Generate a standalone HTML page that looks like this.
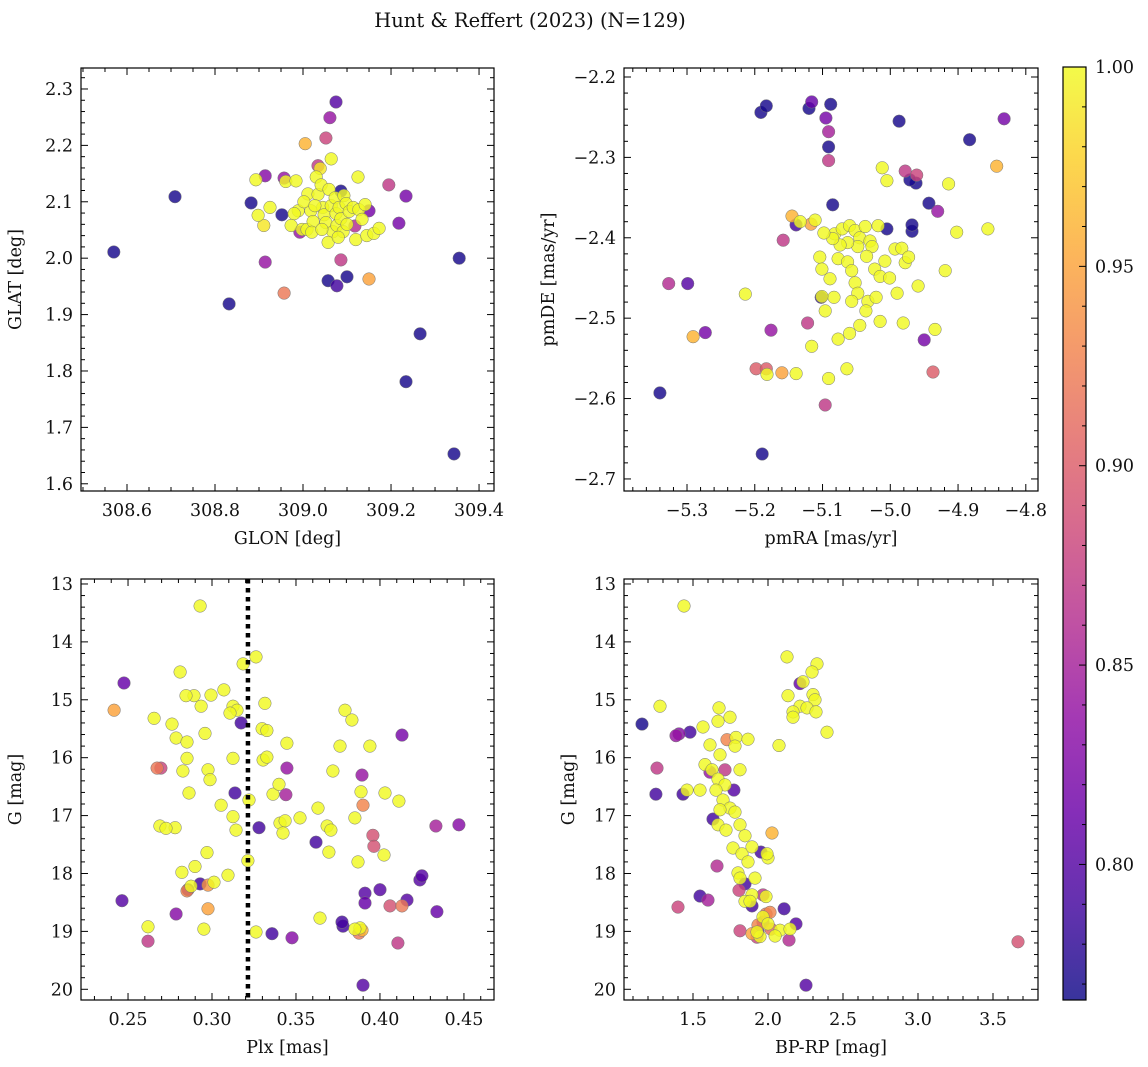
<!DOCTYPE html>
<html><head><meta charset="utf-8"><title>Hunt & Reffert (2023)</title>
<style>
html,body{margin:0;padding:0;background:#fff;}
svg{display:block;font-family:"DejaVu Serif","Liberation Serif",serif;}
</style></head>
<body>
<svg id="fig" width="1148" height="1067" viewBox="0 0 1148 1067" xmlns="http://www.w3.org/2000/svg">
<text x="530" y="27" font-size="19.5" text-anchor="middle" fill="#111">Hunt &amp; Reffert (2023) (N=129)</text>
</svg>
<script>
// ---- Panel 1 data: GLON / GLAT ----
const p1Glon = [308.570,308.709,308.832,308.882,308.952,309.057,309.077,309.100,309.355,309.266,309.234,309.343,309.086,309.075,309.061,309.052,308.914,308.957,309.034,309.195,309.234,309.218,308.914,308.957,309.086,309.150,309.005,309.150,309.118,308.993,
308.893,308.898,308.911,308.925,308.961,308.973,308.984,308.989,308.998,309.009,309.011,309.018,309.023,309.030,309.034,309.039,309.041,309.045,309.048,309.052,309.059,309.064,309.064,309.068,309.073,309.075,309.077,309.082,309.086,309.091,309.093,309.098,309.105,309.114,309.120,309.125,309.127,309.134,309.141,309.145,309.161,309.173,309.020,309.002,309.043,309.057,309.080,308.980,309.027,309.100];
const p1Glat = [2.011,2.109,1.919,2.098,2.077,1.960,1.951,1.967,2.000,1.866,1.781,1.653,2.119,2.277,2.249,2.213,2.146,2.142,2.164,2.130,2.110,2.062,1.993,1.938,1.997,1.963,2.203,2.084,2.057,2.046,
2.139,2.076,2.058,2.090,2.136,2.058,2.137,2.084,2.051,2.051,2.114,2.084,2.065,2.144,2.113,2.159,2.130,2.090,2.077,2.063,2.122,2.176,2.093,2.047,2.107,2.079,2.058,2.090,2.070,2.047,2.111,2.097,2.083,2.090,2.033,2.144,2.086,2.069,2.095,2.040,2.044,2.053,2.046,2.100,2.051,2.028,2.037,2.079,2.093,2.060];
const p1Prob = [.77,.77,.77,.77,.77,.77,.79,.77,.77,.77,.77,.77,.77,.80,.84,.88,.83,.84,.87,.87,.82,.82,.84,.92,.87,.95,.96,.82,.86,.84,
1,1,.99,1,1,1,1,1,1,1,1,1,1,1,1,.99,1,1,1,1,1,1,1,1,1,1,1,1,1,1,1,1,1,1,1,1,1,1,1,1,1,1,1,1,1,1,1,1,1,1];

// ---- Panel 2 data: pmRA / pmDE ----
const p2PmRA = [-5.191,-5.183,-5.120,-5.088,-5.091,-4.987,-4.883,-5.085,-5.005,-4.968,-4.962,-4.968,-4.943,-5.102,-5.340,-5.189,-5.139,-4.971,
-5.116,-5.095,-5.091,-5.091,-4.978,-4.961,-4.930,-5.327,-5.299,-5.273,-5.176,-5.158,-5.122,-5.096,-5.198,-5.183,-4.937,-4.832,-4.950,
-4.843,-5.291,-5.160,-5.145,-5.117,
-5.214,-5.182,-5.139,-5.012,-5.005,-4.914,-4.856,-5.082,-5.071,-5.060,-5.052,-5.045,-5.037,-5.030,-5.018,-5.027,-5.048,-5.063,-5.074,-5.085,-5.098,-5.111,-5.133,-5.104,-5.101,-5.089,-5.077,-5.063,-5.057,-5.052,-5.048,-5.035,-5.023,-5.015,-5.008,-5.001,-4.993,-4.983,-4.978,-4.973,-4.981,-4.990,-4.934,-4.959,-4.919,-4.902,-5.083,-5.060,-5.045,-5.033,-5.015,-5.077,-5.091,-5.064,-5.116,-5.101,-5.096,-5.057,-5.036,-5.021];
const p2PmDE = [-2.244,-2.236,-2.239,-2.234,-2.287,-2.255,-2.278,-2.359,-2.389,-2.392,-2.332,-2.384,-2.357,-2.474,-2.593,-2.669,-2.384,-2.328,
-2.231,-2.251,-2.268,-2.304,-2.317,-2.322,-2.367,-2.457,-2.457,-2.518,-2.515,-2.403,-2.506,-2.608,-2.563,-2.563,-2.567,-2.252,-2.527,
-2.311,-2.523,-2.568,-2.373,-2.383,
-2.470,-2.570,-2.569,-2.313,-2.329,-2.333,-2.389,-2.395,-2.389,-2.385,-2.391,-2.400,-2.386,-2.404,-2.385,-2.411,-2.411,-2.406,-2.409,-2.401,-2.394,-2.378,-2.380,-2.424,-2.439,-2.451,-2.426,-2.430,-2.441,-2.456,-2.469,-2.423,-2.439,-2.448,-2.429,-2.450,-2.414,-2.413,-2.431,-2.424,-2.506,-2.469,-2.514,-2.460,-2.441,-2.393,-2.474,-2.519,-2.509,-2.479,-2.504,-2.526,-2.575,-2.563,-2.535,-2.473,-2.491,-2.479,-2.491,-2.474];
const p2Prob = [.77,.77,.77,.77,.77,.77,.77,.77,.77,.77,.77,.77,.77,.78,.77,.77,.79,.77,
.81,.82,.85,.87,.87,.88,.84,.86,.80,.82,.84,.87,.87,.87,.90,.90,.90,.82,.82,
.96,.96,.95,.96,.95,
1,1,1,1,1,1,1,1,1,1,1,1,1,1,1,1,1,1,1,1,1,1,1,1,1,1,1,1,1,1,1,1,1,1,1,1,1,1,1,1,1,1,1,1,1,1,1,1,1,1,1,1,1,1,1,1,1,1,1,1];

// ---- Panel 3 data: Plx / G ----
const p3Plx = [.2476,.2417,.2464,.2619,.2673,.2696,.2857,.2786,.2851,.2929,.2976,.2976,.3173,.3137,.3280,.3357,.3476,.3440,.3446,.3619,.3780,.3774,.3893,.3875,.3899,.3911,.3911,.3893,.3899,.3958,.3964,.4060,.4107,.4131,.4161,.4131,.4238,.4250,.4333,.4339,.4470,.4000,
.2929,.3262,.3185,.2810,.3071,.2893,.2845,.2994,.2935,.2762,.2655,.3125,.3315,.3149,.3298,.3327,.2958,.3107,.2786,.2851,.3125,.3304,.3446,.3792,.3833,.3762,.2851,.2827,.2976,.2988,.2863,.3363,.3054,.3524,.3399,.3125,.3143,.3887,.3631,.3685,.3405,.2780,.2690,.2970,.2899,.2821,.2875,.3012,.3095,.3220,.3327,.3851,.4030,.4113,.3720,.3940,.4024,.3869,.3696,.3214,.3262,.2952,.2619,.3643,.3881,.3435,.3708,.3423,.3851,.2726];
const p3G = [14.71,15.18,18.47,19.17,16.18,16.18,18.28,18.70,18.30,18.18,18.20,18.61,15.40,16.61,17.21,19.04,19.11,16.64,16.18,17.46,18.91,18.84,18.98,19.03,19.93,18.51,18.34,16.30,16.82,17.34,17.53,18.56,19.20,18.56,18.46,15.61,18.11,18.04,17.18,18.66,17.16,18.28,
13.38,14.26,14.38,14.52,14.83,14.93,14.93,14.92,15.11,15.42,15.32,15.11,15.06,15.18,15.50,15.53,15.58,15.23,15.66,15.73,16.01,16.04,15.75,15.18,15.35,15.80,16.01,16.23,16.21,16.38,16.61,16.63,16.82,17.04,16.46,17.02,17.25,16.59,16.87,17.18,17.13,17.21,17.18,17.64,17.88,17.98,18.22,18.15,18.03,16.73,15.99,17.04,16.61,16.75,16.23,15.80,17.68,17.80,17.63,17.78,19.01,18.96,18.92,18.77,18.94,17.09,17.25,17.30,18.96,17.22];
const p3Prob = [.81,.95,.80,.87,.92,.88,.79,.83,.93,.79,.94,.95,.79,.79,.79,.79,.83,.85,.84,.79,.79,.79,.96,.92,.80,.81,.80,.84,.93,.89,.89,.89,.87,.92,.80,.82,.80,.80,.85,.81,.83,.80,
1,1,1,1,1,1,1,1,1,1,1,1,1,1,1,1,1,1,1,1,1,1,1,1,1,1,1,1,1,1,1,1,1,1,1,1,1,1,1,1,1,1,1,1,1,1,1,1,1,1,1,1,1,1,1,1,1,1,1,1,1,1,1,1,1,1,1,1,1,1];
const p3Cut = 0.3214;

// ---- Panel 4 data: BP-RP / G ----
const p4BpRp = [1.160,1.480,1.433,1.633,1.547,1.847,1.893,2.107,2.187,2.253,2.213,1.407,1.387,1.260,1.613,1.773,1.953,1.807,1.967,2.140,1.927,1.933,2.020,2.013,1.987,1.813,1.600,1.660,1.967,2.027,1.400,1.893,1.933,3.667,1.727,1.713,1.253,
1.440,2.127,2.327,2.293,2.133,2.233,2.300,2.313,2.213,2.260,2.167,2.320,2.167,2.393,2.073,1.280,1.567,1.673,1.667,1.747,1.787,1.867,1.780,1.680,1.580,1.627,1.667,1.713,1.653,1.700,1.747,1.780,1.667,1.720,1.813,1.847,1.767,1.827,1.893,1.867,1.800,1.813,1.913,2.000,1.993,1.987,1.893,1.967,2.000,2.080,2.147,2.047,1.947,1.927,1.847,1.680,1.813,1.613,1.547,1.460,1.880];
const p4G = [15.42,15.56,16.63,17.06,18.39,18.18,18.56,18.61,18.87,19.93,14.72,15.59,15.62,16.18,16.25,16.56,17.63,18.29,18.37,19.15,19.10,19.01,18.96,18.67,18.70,18.99,18.46,17.87,18.84,17.30,18.58,19.04,18.89,19.18,15.69,16.21,16.63,
13.38,14.26,14.38,14.52,14.93,14.69,14.91,15.00,15.11,15.14,15.21,15.21,15.30,15.56,15.79,15.11,15.47,15.14,15.37,15.30,15.65,15.68,15.80,15.95,16.12,16.21,16.37,16.47,16.56,16.73,16.87,16.94,17.16,17.25,17.16,17.35,17.56,17.66,17.54,17.80,17.99,18.08,18.08,17.73,17.66,18.40,18.37,18.75,18.87,18.98,18.96,19.08,19.09,19.01,18.48,16.90,16.21,15.78,16.56,16.56,18.48];
const p4Prob = [.77,.79,.79,.79,.79,.79,.79,.79,.80,.80,.81,.83,.84,.87,.84,.80,.79,.88,.87,.86,.88,.80,.91,.93,.92,.88,.85,.86,.85,.96,.88,.95,.93,.89,.93,.87,.79,
1,1,1,1,1,1,1,1,1,1,1,1,1,1,1,1,1,1,1,1,1,1,1,1,1,1,1,1,1,1,1,1,1,1,1,1,1,1,1,1,1,1,1,1,1,1,1,1,1,1,1,1,1,1,1,1,1,1,1,1,1];

// ---- Tick labels ----
const p1XTicks = [308.6,308.8,309.0,309.2,309.4];
const p1YTicks = [1.6,1.7,1.8,1.9,2.0,2.1,2.2,2.3];
const p2XTicks = [-5.3,-5.2,-5.1,-5.0,-4.9,-4.8];
const p2YTicks = [-2.7,-2.6,-2.5,-2.4,-2.3,-2.2];
const p3XTicks = [0.25,0.30,0.35,0.40,0.45];
const gTicks = [13,14,15,16,17,18,19,20];
const p4XTicks = [1.5,2.0,2.5,3.0,3.5];
const cbTicks = [0.80,0.85,0.90,0.95,1.00];
const cMin = 0.766, cMax = 1.0;

const NS = 'http://www.w3.org/2000/svg';
const svg = document.getElementById('fig');
const FS = 17.5;
function mk(tag, attrs, parent){const e=document.createElementNS(NS,tag);for(const k in attrs)e.setAttribute(k,attrs[k]);(parent||svg).appendChild(e);return e;}

const plasmaStops = [[13,8,135],[65,4,157],[106,0,168],[143,13,164],[177,42,144],[204,71,120],[225,100,98],[242,132,75],[252,166,54],[252,206,37],[240,249,33]];
function plasma(t){t=Math.max(0,Math.min(1,t));const f=t*10,i=Math.min(9,Math.floor(f)),r=f-i;const a=plasmaStops[i],b=plasmaStops[i+1];
return 'rgb('+a.map((v,k)=>Math.round(v+(b[k]-v)*r)).join(',')+')';}

function linScale(d0,d1,r0,r1){return v=>r0+(v-d0)/(d1-d0)*(r1-r0);}
function fmt(v,dec){return (v<0?'\u2212':'')+Math.abs(v).toFixed(dec);}

function panel(o){
  const g = mk('g',{});
  
  
  const sx=linScale(o.xd[0],o.xd[1],o.L,o.R), sy=linScale(o.yd[0],o.yd[1],o.B,o.T);
  const idx=o.xs.map((_,i)=>i).sort((a,b)=>o.cs[a]-o.cs[b]);
  const pg=mk('g',{},g);
  
  
  idx.forEach(i=>{
    const c=mk('circle',{cx:sx(o.xs[i]).toFixed(1),cy:sy(o.ys[i]).toFixed(1),r:6.3,fill:plasma((o.cs[i]-cMin)/(cMax-cMin)),'fill-opacity':0.82,stroke:'#777','stroke-width':0.5},pg);
    
    
  });
  if(o.vline!==undefined){
    const l=mk('line',{x1:sx(o.vline),x2:sx(o.vline),y1:o.T,y2:o.B,stroke:'#000','stroke-width':4.5,'stroke-dasharray':'4.5,4.5'},g);
    
    
  }
  const fr=mk('rect',{x:o.L,y:o.T,width:o.R-o.L,height:o.B-o.T,fill:'none',stroke:'#000','stroke-width':1.2},g);
  
  
  const tg=mk('g',{stroke:'#000','stroke-width':1},g);
  
  
  const xa=Math.min(o.xd[0],o.xd[1]), xb=Math.max(o.xd[0],o.xd[1]);
  for(let k=Math.ceil(xa/o.xmin-1e-6);k*o.xmin<=xb+1e-9;k++){
    const v=k*o.xmin, x=sx(v), maj=Math.abs(v/o.xmaj-Math.round(v/o.xmaj))<1e-6, len=maj?7:4;
    mk('line',{x1:x,x2:x,y1:o.B,y2:o.B-len},tg); mk('line',{x1:x,x2:x,y1:o.T,y2:o.T+len},tg);
  }
  const ya=Math.min(o.yd[0],o.yd[1]), yb=Math.max(o.yd[0],o.yd[1]);
  for(let k=Math.ceil(ya/o.ymin-1e-6);k*o.ymin<=yb+1e-9;k++){
    const v=k*o.ymin, y=sy(v), maj=Math.abs(v/o.ymaj-Math.round(v/o.ymaj))<1e-6, len=maj?7:4;
    mk('line',{x1:o.L,x2:o.L+len,y1:y,y2:y},tg); mk('line',{x1:o.R,x2:o.R-len,y1:y,y2:y},tg);
  }
  o.xt.forEach(v=>{const t=mk('text',{x:sx(v),y:o.B+25,'font-size':FS,'text-anchor':'middle',fill:'#111'},g);t.textContent=fmt(v,o.xdec);
    
    });
  o.yt.forEach(v=>{const t=mk('text',{x:o.L-8,y:sy(v)+6,'font-size':FS,'text-anchor':'end',fill:'#111'},g);t.textContent=fmt(v,o.ydec);
    
    });
  const xl=mk('text',{x:(o.L+o.R)/2,y:o.B+53,'font-size':FS,'text-anchor':'middle',fill:'#111'},g);xl.textContent=o.xlab;
  
  
  const yx=o.L-o.ylOff, yy=(o.T+o.B)/2;
  const yl=mk('text',{x:yx,y:yy,'font-size':FS,'text-anchor':'middle',fill:'#111',transform:'rotate(-90 '+yx+' '+yy+')'},g);yl.textContent=o.ylab;
  
  
}

panel({name:'glon-glat-panel',L:81,R:494,T:68,B:491,xd:[308.4955,309.434],yd:[1.5872,2.3372],xs:p1Glon,ys:p1Glat,cs:p1Prob,
  xt:p1XTicks,yt:p1YTicks,xdec:1,ydec:1,xmaj:0.2,xmin:0.05,ymaj:0.1,ymin:0.02,xlab:'GLON [deg]',ylab:'GLAT [deg]',ylOff:60});
panel({name:'proper-motion-panel',L:624,R:1038,T:68,B:491,xd:[-5.393,-4.782],yd:[-2.715,-2.1888],xs:p2PmRA,ys:p2PmDE,cs:p2Prob,
  xt:p2XTicks,yt:p2YTicks,xdec:1,ydec:1,xmaj:0.1,xmin:0.02,ymaj:0.1,ymin:0.02,xlab:'pmRA [mas/yr]',ylab:'pmDE [mas/yr]',ylOff:70});
panel({name:'parallax-magnitude-panel',L:81,R:494,T:579,B:1000,xd:[0.222,0.4679],yd:[20.185,12.914],xs:p3Plx,ys:p3G,cs:p3Prob,vline:p3Cut,
  xt:p3XTicks,yt:gTicks,xdec:2,ydec:0,xmaj:0.05,xmin:0.01,ymaj:1,ymin:0.2,xlab:'Plx [mas]',ylab:'G [mag]',ylOff:60});
panel({name:'color-magnitude-panel',L:624,R:1038,T:579,B:1000,xd:[1.04,3.80],yd:[20.185,12.914],xs:p4BpRp,ys:p4G,cs:p4Prob,
  xt:p4XTicks,yt:gTicks,xdec:1,ydec:0,xmaj:0.5,xmin:0.1,ymaj:1,ymin:0.2,xlab:'BP-RP [mag]',ylab:'G [mag]',ylOff:50});

// colorbar
(function(){
  const L=1063,R=1086,T=67,B=1000;
  const defs=mk('defs',{});
  const lg=mk('linearGradient',{id:'cbgrad',x1:0,y1:1,x2:0,y2:0},defs);
  plasmaStops.forEach((c,i)=>mk('stop',{offset:(i/10),'stop-color':'rgb('+c.join(',')+')'},lg));
  const g=mk('g',{});
  
  
  mk('rect',{x:L,y:T,width:R-L,height:B-T,fill:'url(#cbgrad)','fill-opacity':0.82},g);
  mk('rect',{x:L,y:T,width:R-L,height:B-T,fill:'none',stroke:'#000','stroke-width':1.2},g);
  const sy=linScale(cMin,cMax,B,T);
  for(let k=77;k<=100;k++){const v=k/100,y=sy(v),maj=k%5===0;mk('line',{x1:R,x2:R-(maj?7:4),y1:y,y2:y,stroke:'#000','stroke-width':1},g);}
  cbTicks.forEach(v=>{const t=mk('text',{x:R+9,y:sy(v)+6,'font-size':FS,fill:'#111'},g);t.textContent=v.toFixed(2);
    
    });
})();
</script>
</body></html>
